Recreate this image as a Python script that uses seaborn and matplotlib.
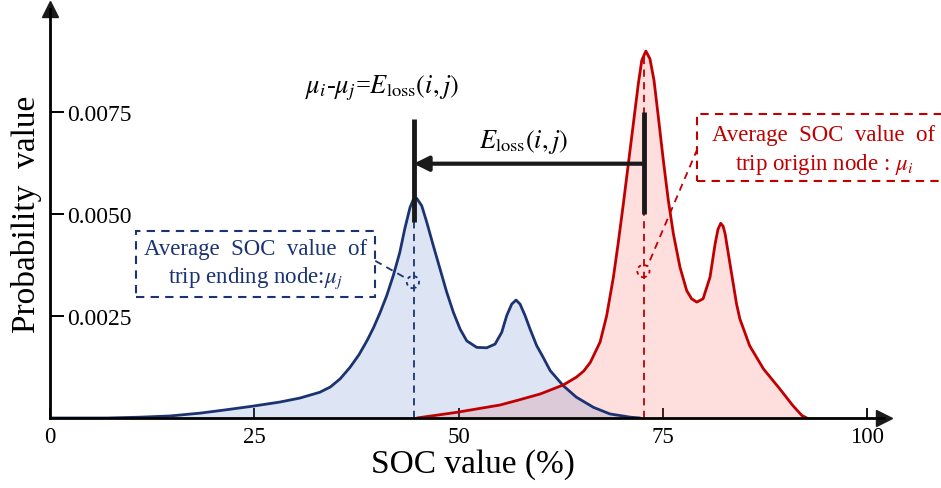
import numpy as np
import pandas as pd
import matplotlib
matplotlib.use("Agg")
import matplotlib.pyplot as plt
import seaborn as sns
from matplotlib.patches import Rectangle, Ellipse

# ---- data (probability in units of 1e-3) ----
soc_blue = [0, 7.0, 11.0, 14.7, 18.4, 21.5, 24.8, 28.1, 30.6, 33.0, 34.3, 35.5, 36.7, 37.8,
            38.8, 39.6, 40.4, 41.2, 42.0, 42.8, 43.4, 44.05, 44.45, 44.87, 45.48, 46.09,
            46.9, 47.72, 48.54, 49.35, 50.17, 50.99, 52.21, 53.43, 54.45, 55.27, 55.88,
            56.49, 57.02, 57.51, 58.12, 58.73, 59.55, 60.3, 61.2, 62.8, 64.4, 66.5, 68.5,
            71.0, 72.2]
prob_blue = [0, 0, 0.02, 0.05, 0.12, 0.20, 0.29, 0.39, 0.49, 0.63, 0.76, 0.96, 1.24, 1.55,
             1.90, 2.22, 2.59, 3.00, 3.49, 4.06, 4.63, 5.16, 5.35, 5.38, 5.20, 4.80,
             4.22, 3.65, 3.08, 2.59, 2.18, 1.89, 1.73, 1.72, 1.81, 2.10, 2.51,
             2.79, 2.89, 2.79, 2.51, 2.18, 1.77, 1.50, 1.16, 0.79, 0.51, 0.26, 0.10,
             0.02, 0]

soc_red = [44.9, 49.8, 55.1, 57.5, 60.0, 62.8, 64.4, 65.3, 66.1, 67.3, 68.1, 68.93, 69.5,
           70.15, 70.76, 71.37, 71.98, 72.4, 72.9, 73.4, 73.9, 74.43, 75.04, 75.65, 76.27,
           77.08, 77.9, 78.5, 79.13, 79.9, 80.75, 81.37, 81.72, 82.06, 82.35, 82.6, 83.2,
           84.0, 84.4, 85.6, 87.3, 89.3, 90.9, 92.0, 92.6]
prob_red = [0, 0.14, 0.32, 0.45, 0.59, 0.81, 1.00, 1.15, 1.36, 1.86, 2.50, 3.45, 4.26,
            5.25, 6.23, 7.21, 8.19, 8.76, 8.99, 8.80, 8.27, 7.37, 6.31, 5.33, 4.51,
            3.69, 3.12, 2.92, 2.84, 2.92, 3.45, 4.26, 4.62, 4.77, 4.70, 4.51, 3.77,
            2.79, 2.43, 1.77, 1.20, 0.71, 0.30, 0.06, 0]

x_ticks = [0, 25, 50, 75, 100]
y_ticks = [0.0025, 0.0050, 0.0075]
y_tick_labels = ["0.0025", "0.0050", "0.0075"]
mu_j = 44.5   # average SOC, trip ending node
mu_i = 72.7   # average SOC, trip origin node

NAVY = "#1B3370"
RED = "#C00000"

df_blue = pd.DataFrame({"soc": soc_blue, "p": np.array(prob_blue) * 1e-3})
df_red = pd.DataFrame({"soc": soc_red, "p": np.array(prob_red) * 1e-3})

sns.set_theme(style="white")
plt.rcParams["font.family"] = ["Liberation Serif", "DejaVu Serif"]
plt.rcParams["mathtext.fontset"] = "stix"

fig = plt.figure(figsize=(9.41, 4.89), dpi=100)
ax = fig.add_axes([50 / 941, 70 / 489, 833.7 / 941, 409 / 489])

# fills
ax.fill_between(df_red["soc"], df_red["p"], color=(1.0, 0.3, 0.3), alpha=0.18, lw=0, zorder=1)
ax.fill_between(df_blue["soc"], df_blue["p"], color=(0.27, 0.45, 0.77), alpha=0.18, lw=0, zorder=1)

sns.lineplot(data=df_blue, x="soc", y="p", color=NAVY, lw=2.0, ax=ax, zorder=3)
sns.lineplot(data=df_red, x="soc", y="p", color=RED, lw=2.0, ax=ax, zorder=3)
for ln in ax.lines:
    ln.set_solid_joinstyle("round")

ax.set_xlim(0, 102)
ax.set_ylim(0, 0.01002)

# axes styling
for s in ["top", "right"]:
    ax.spines[s].set_visible(False)
for s in ["left", "bottom"]:
    ax.spines[s].set_color("black")
    ax.spines[s].set_linewidth(2.0)
    ax.spines[s].set_zorder(7)
ax.plot([1], [0], marker=">", color="k", markersize=11, transform=ax.transAxes, clip_on=False)
ax.plot([0], [1], marker="^", color="k", markersize=11, transform=ax.transAxes, clip_on=False)

ax.set_xticks(x_ticks)
ax.set_xticklabels([str(t) for t in x_ticks])
ax.set_yticks(y_ticks)
ax.set_yticklabels(y_tick_labels)
ax.tick_params(axis="x", bottom=True, direction="in", length=7, width=1.3, pad=6,
               labelsize=16.5, colors="black")
ax.tick_params(axis="y", left=True, direction="in", length=10, width=1.4, pad=-12,
               labelsize=17, colors="black")
for lab in ax.get_yticklabels():
    lab.set_horizontalalignment("left")

ax.set_xlabel("SOC value (%)", fontsize=24, color="black")
ax.set_ylabel("Probability  value", fontsize=24, color="black")
ax.xaxis.set_label_coords(0.507, -0.075)
ax.yaxis.set_label_coords(-0.009, 0.5)

# mean markers
ax.plot([mu_j, mu_j], [0.0048, 0.00733], color="k", lw=3.5, solid_capstyle="butt", zorder=5)
ax.plot([mu_i, mu_i], [0.0050, 0.0075], color="k", lw=3.5, solid_capstyle="butt", zorder=5)
ax.annotate("", xy=(mu_j, 0.00623), xytext=(mu_i, 0.00623),
            arrowprops=dict(arrowstyle="-|>", lw=3, color="k", mutation_scale=22,
                            shrinkA=0, shrinkB=0), zorder=5)

dash = (0, (4, 3))
ax.plot([mu_j, mu_j], [0, 0.0048], ls=dash, color=NAVY, lw=1.3, zorder=4)
ax.plot([mu_i, mu_i], [0, 0.0089], ls=dash, color=RED, lw=1.3, zorder=4)

ax.text(40.7, 0.00811, r"$\mu_i$-$\mu_j$=$E_{\mathrm{loss}}(i,j)$", fontsize=19,
        ha="center", va="center", color="black")
ax.text(57.9, 0.00679, r"$E_{\mathrm{loss}}(i,j)$", fontsize=19,
        ha="center", va="center", color="black")

# blue callout
ax.add_patch(Rectangle((10.5, 0.00297), 29.3, 0.00161, fill=False, ls=dash, ec=NAVY, lw=1.5,
                       clip_on=False, zorder=6))
ax.text(25.1, 0.00377, "Average  SOC  value  of\ntrip ending node:$\\mu_j$", fontsize=16.5,
        ha="center", va="center", color=NAVY, linespacing=1.3)
ax.add_patch(Ellipse((44.4, 0.00333), 1.5, 0.00030, fill=False, ls=(0, (2, 2)), ec=NAVY, lw=1.3, zorder=6))
ax.plot([39.8, 43.6], [0.00385, 0.00342], ls=dash, color=NAVY, lw=1.3, zorder=6)

# red callout
ax.add_patch(Rectangle((79.2, 0.00581), 30.0, 0.00164, fill=False, ls=dash, ec=RED, lw=1.5,
                       clip_on=False, zorder=6))
ax.text(94.7, 0.00657, "Average  SOC  value  of\ntrip origin node : $\\mu_i$", fontsize=16.5,
        ha="center", va="center", color=RED, linespacing=1.3, clip_on=False)
ax.add_patch(Ellipse((72.6, 0.00360), 1.5, 0.00030, fill=False, ls=(0, (2, 2)), ec=RED, lw=1.3, zorder=6))
ax.plot([79.2, 73.1], [0.00659, 0.00372], ls=dash, color=RED, lw=1.3, zorder=6)

fig.savefig("out.png", dpi=100)
